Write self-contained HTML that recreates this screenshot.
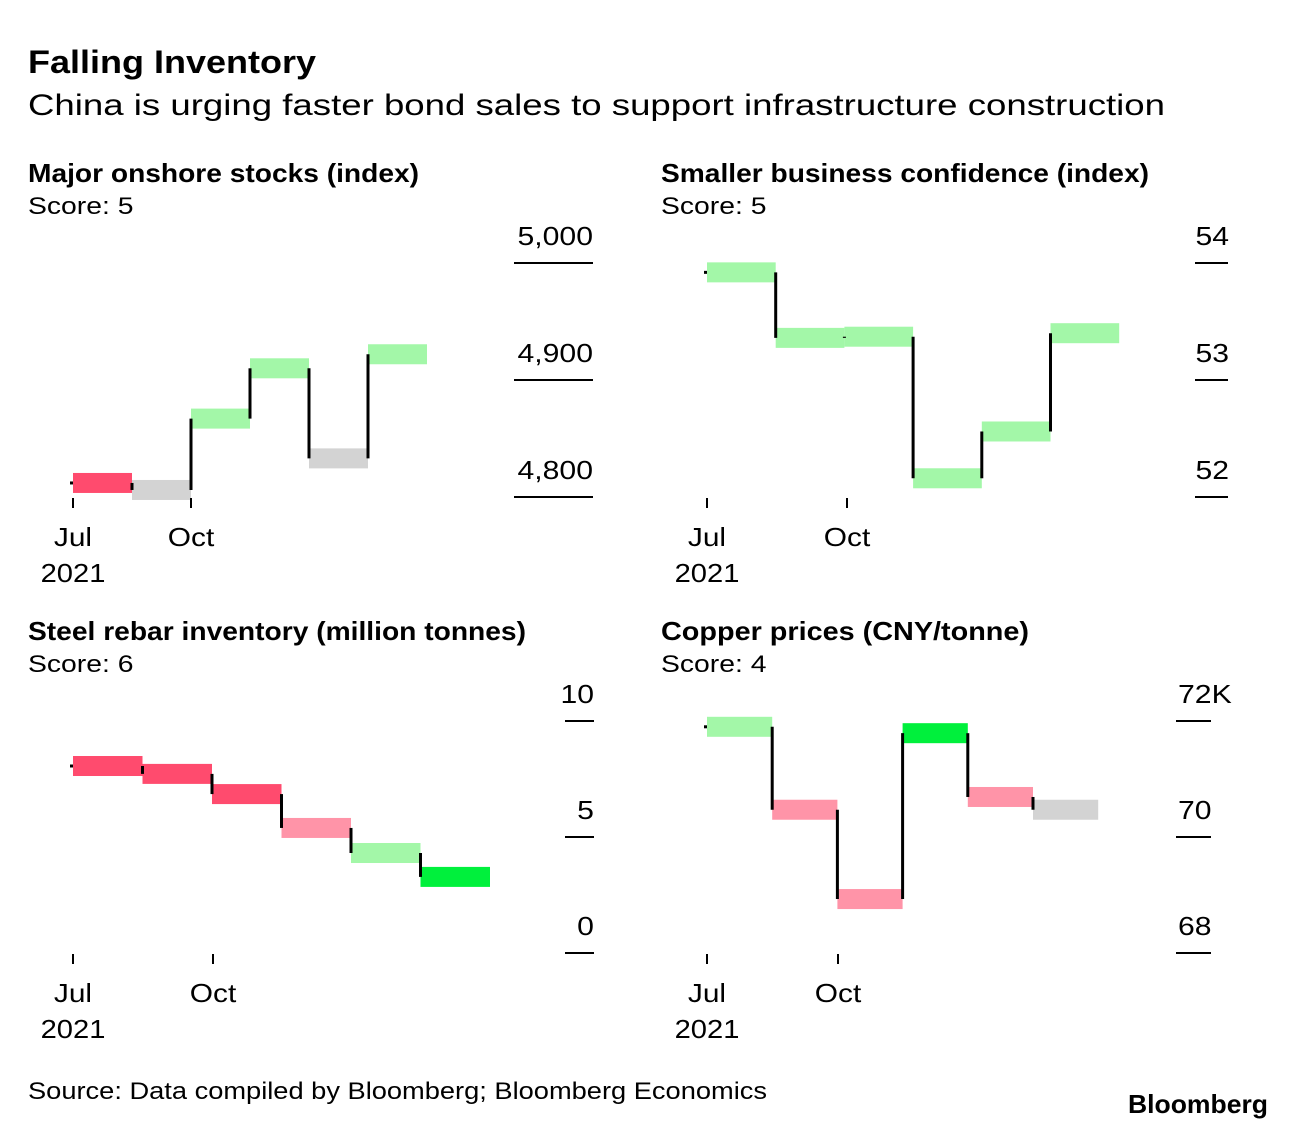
<!DOCTYPE html>
<html><head><meta charset="utf-8"><style>
body{margin:0;background:#fff;font-family:"Liberation Sans",sans-serif;}
svg text{font-family:"Liberation Sans",sans-serif;fill:#000;}
</style></head><body>
<svg id="c" width="1296" height="1130" xmlns="http://www.w3.org/2000/svg">
<text x="28" y="73" font-size="32" font-weight="bold" textLength="288" lengthAdjust="spacingAndGlyphs">Falling Inventory</text>
<text x="28" y="115" font-size="30" textLength="1137" lengthAdjust="spacingAndGlyphs">China is urging faster bond sales to support infrastructure construction</text>
<text x="28" y="1099" font-size="24" textLength="739" lengthAdjust="spacingAndGlyphs">Source: Data compiled by Bloomberg; Bloomberg Economics</text>
<text x="1128" y="1113" font-size="26" font-weight="bold" textLength="140" lengthAdjust="spacingAndGlyphs">Bloomberg</text>
</svg>
<script>
const p1Values=[4812,4806,4867,4910,4833,4922];
const p1Colors=["#ff4b6e","#d3d3d3","#a3f7a8","#a3f7a8","#d3d3d3","#a3f7a8"];
const p1Ticks=[4800,4900,5000];
const p1TickLabels=["4,800","4,900","5,000"];
const p2Values=[53.92,53.36,53.37,52.16,52.56,53.4];
const p2Colors=["#a3f7a8","#a3f7a8","#a3f7a8","#a3f7a8","#a3f7a8","#a3f7a8"];
const p2Ticks=[52,53,54];
const p2TickLabels=["52","53","54"];
const p3Values=[8.06,7.72,6.85,5.39,4.31,3.28];
const p3Colors=["#ff4b6e","#ff4b6e","#ff4b6e","#ff94a8","#a3f7a8","#00f03c"];
const p3Ticks=[0,5,10];
const p3TickLabels=["0","5","10"];
const p4Values=[71.9,70.47,68.93,71.79,70.69,70.47];
const p4Colors=["#a3f7a8","#ff94a8","#ff94a8","#00f03c","#ff94a8","#d3d3d3"];
const p4Ticks=[68,70,72];
const p4TickLabels=["68","70","72K"];
const xTickLabels=["Jul","Oct"];

const svg=document.getElementById('c');
const NS="http://www.w3.org/2000/svg";
function mk(tag,attrs,parent){const e=document.createElementNS(NS,tag);for(const k in attrs)e.setAttribute(k,attrs[k]);(parent||svg).appendChild(e);return e;}
function widen(t,f){const L=t.getComputedTextLength();t.setAttribute('textLength',(L*f).toFixed(1));t.setAttribute('lengthAdjust','spacingAndGlyphs');}

const panels=[
 {name:"stocks",title:"Major onshore stocks (index)",tw:391,score:"Score: 5",tx:28,ty:0,x0:73,w:59,yTop:263,yBot:497,vals:p1Values,cols:p1Colors,ticks:p1Ticks,tl:p1TickLabels,lx0:514,lx1:593,anchor:"end",lab:593,oct:191},
 {name:"confidence",title:"Smaller business confidence (index)",tw:488,score:"Score: 5",tx:661,ty:0,x0:707,w:68.7,yTop:263,yBot:497,vals:p2Values,cols:p2Colors,ticks:p2Ticks,tl:p2TickLabels,lx0:1195,lx1:1228,anchor:"end",lab:1229,oct:847},
 {name:"rebar",title:"Steel rebar inventory (million tonnes)",tw:498,score:"Score: 6",tx:28,ty:458,x0:73,w:69.5,yTop:721,yBot:953,vals:p3Values,cols:p3Colors,ticks:p3Ticks,tl:p3TickLabels,lx0:565,lx1:594,anchor:"end",lab:594,oct:213},
 {name:"copper",title:"Copper prices (CNY/tonne)",tw:368,score:"Score: 4",tx:661,ty:458,x0:707,w:65.2,yTop:721,yBot:953,vals:p4Values,cols:p4Colors,ticks:p4Ticks,tl:p4TickLabels,lx0:1176,lx1:1211,anchor:"start",lab:1178,oct:838}
];
panels.forEach(p=>{
 const g=mk('g',{});
 
 
 const t=mk('text',{x:p.tx,y:182+p.ty,'font-size':26,'font-weight':'bold',textLength:p.tw,lengthAdjust:'spacingAndGlyphs'},g);t.textContent=p.title;
 
 
 const s=mk('text',{x:p.tx,y:214+p.ty,'font-size':24},g);s.textContent=p.score;
 
 
 widen(s,1.18);
 const lo=p.ticks[0],hi=p.ticks[p.ticks.length-1];
 const y=v=>p.yBot-(v-lo)/(hi-lo)*(p.yBot-p.yTop);
 const xb=i=>p.x0+i*p.w;
 p.ticks.forEach((tv,i)=>{
  const l=mk('line',{x1:p.lx0,x2:p.lx1,y1:y(tv),y2:y(tv),stroke:'#000','stroke-width':2},g);
  
  
  const tt=mk('text',{x:p.lab,y:y(tv)-18,'font-size':26,'text-anchor':p.anchor},g);tt.textContent=p.tl[i];
  
  
  widen(tt,1.16);
 });
 const bh=20;
 p.vals.forEach((v,i)=>{
  const r=mk('rect',{x:xb(i),y:y(v)-bh/2,width:p.w,height:bh,fill:p.cols[i]},g);
  
  
 });
 const st=mk('line',{x1:xb(0)-3,x2:xb(0),y1:y(p.vals[0]),y2:y(p.vals[0]),stroke:'#000','stroke-width':3},g);
 
 
 for(let i=1;i<p.vals.length;i++){
  const c=mk('line',{x1:xb(i),x2:xb(i),y1:y(p.vals[i-1]),y2:y(p.vals[i]),stroke:'#000','stroke-width':3},g);
  
  
 }
 const axY=p.yBot;
 xTickLabels.forEach((lab,i)=>{
  const xx=i===0?p.x0:p.oct;
  const tk=mk('line',{x1:xx,x2:xx,y1:axY+1,y2:axY+11,stroke:'#000','stroke-width':2},g);
  
  
  const tt=mk('text',{x:xx,y:axY+49,'font-size':26,'text-anchor':'middle'},g);tt.textContent=lab;
  
  
  widen(tt,1.15);
 });
 const yr=mk('text',{x:p.x0,y:axY+85,'font-size':26,'text-anchor':'middle'},g);yr.textContent="2021";
 
 
 widen(yr,1.12);
});
</script>
</body></html>
